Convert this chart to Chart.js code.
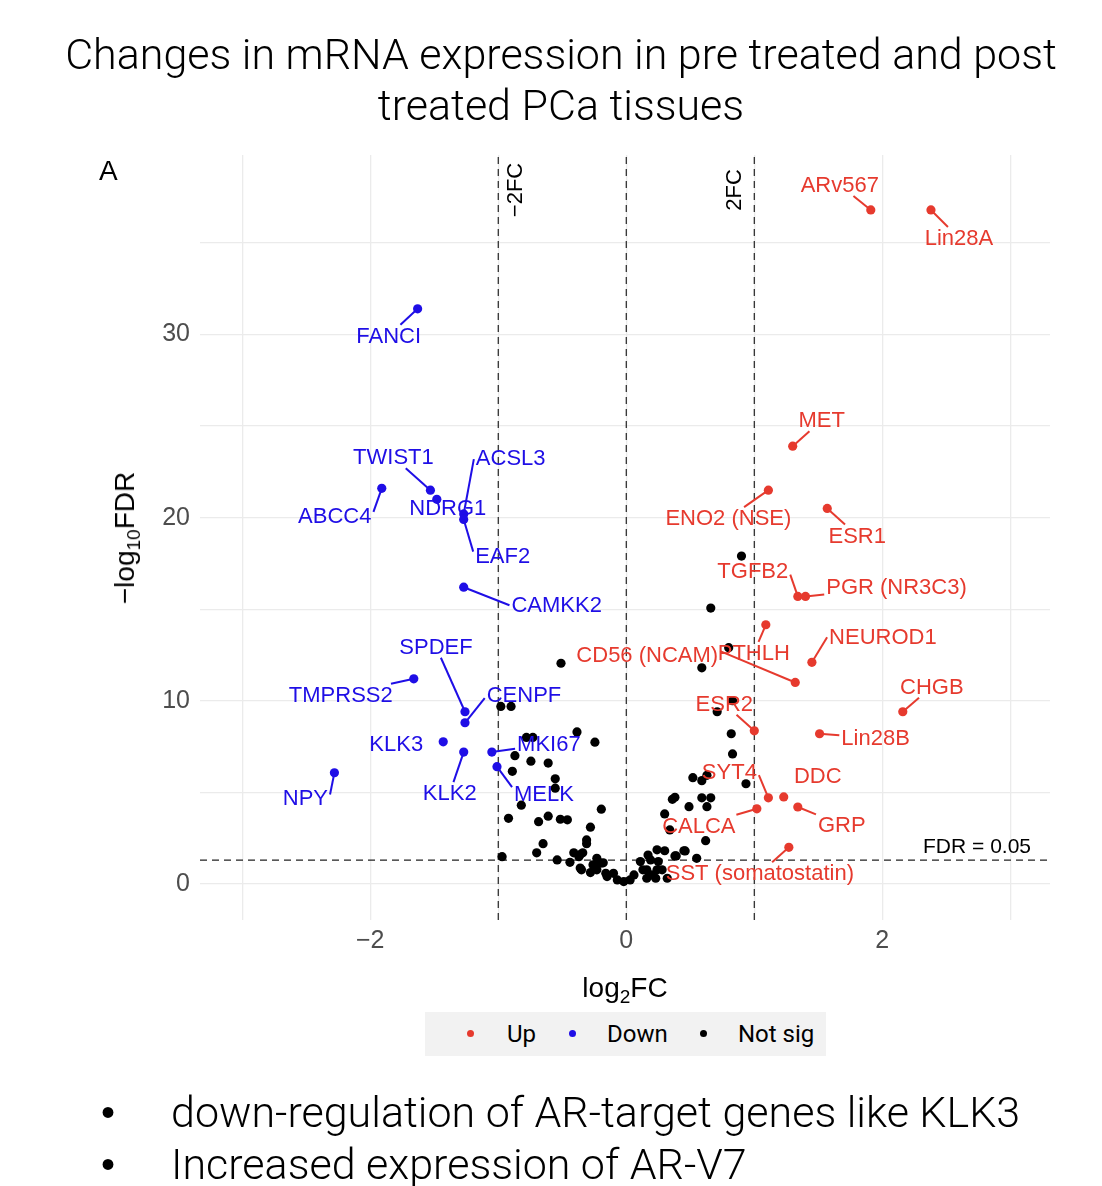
<!DOCTYPE html>
<html>
<head>
<meta charset="utf-8">
<script src="https://cdn.jsdelivr.net/npm/chart.js@4.4.1/dist/chart.umd.min.js"></script>
<style>
  html, body { margin: 0; padding: 0; background: #fff; }
  body { width: 1102px; height: 1186px; position: relative; overflow: hidden; font-family: Roboto, "Noto Sans", sans-serif; }
  #wrap { position: absolute; left: 0; top: 0; width: 1102px; height: 1186px; }
  .title { position: absolute; left: 10px; top: 29px; width: 1102px; text-align: center; font-size: 43px; font-weight: 300; line-height: 51px; color: #000; }
  .panel { position: absolute; left: 99px; top: 155px; font: 28px "Liberation Sans", Arial, sans-serif; color: #000; }
  .ytitle, .xtitle { position: absolute; font: 28px "Liberation Sans", Arial, sans-serif; white-space: nowrap; color: #000; }
  .ytitle { left: 125px; top: 538px; transform: translate(-50%, -50%) rotate(-90deg); }
  .xtitle { left: 625px; top: 988px; transform: translate(-50%, -50%); }
  sub { font-size: 68%; vertical-align: -0.3em; line-height: 0; }
  .legend { position: absolute; left: 425px; top: 1012px; width: 401px; height: 44px; background: #f2f2f2; }
  .legend span { position: absolute; top: 0; line-height: 44px; font-size: 24px; color: #000; }
  .legend i { position: absolute; top: 18px; width: 7px; height: 7px; border-radius: 50%; }
  .bullets { position: absolute; left: 0; top: 1086px; font-size: 43px; font-weight: 300; line-height: 52px; color: #000; }
  .bullets div { position: relative; padding-left: 171px; white-space: nowrap; }
  .bullets div::before { content: "\2022"; position: absolute; left: 101px; top: 0; font: 40px "Liberation Sans", Arial, sans-serif; line-height: 52px; }
</style>
</head>
<body>
<div id="wrap"><canvas id="volcano" width="1102" height="1186"></canvas></div>
<div class="title">Changes in mRNA expression in pre treated and post<br>treated PCa tissues</div>
<div class="panel">A</div>
<div class="ytitle">&minus;log<sub>10</sub>FDR</div>
<div class="xtitle">log<sub>2</sub>FC</div>
<div class="legend">
  <i style="left:42px;background:#e63a2e"></i><span style="left:82px">Up</span>
  <i style="left:144px;background:#1f0ee6"></i><span style="left:182px">Down</span>
  <i style="left:275px;background:#000"></i><span style="left:313px">Not sig</span>
</div>
<div class="bullets">
  <div>down-regulation of AR-target genes like KLK3</div>
  <div>Increased expression of AR-V7</div>
</div>
<script>
// significant up genes
const upGenes = ['ARv567', 'Lin28A', 'MET', 'ENO2 (NSE)', 'ESR1', 'TGFB2', 'PGR (NR3C3)', 'PTHLH',
  'NEUROD1', 'CD56 (NCAM)', 'CHGB', 'ESR2', 'Lin28B', 'SYT4', 'DDC', 'GRP', 'CALCA', 'SST (somatostatin)'];
const upLogFC = [1.91, 2.38, 1.30, 1.11, 1.57, 1.34, 1.40, 1.09,
  1.45, 1.32, 2.16, 1.00, 1.51, 1.11, 1.23, 1.34, 1.02, 1.27];
const upFDR = [36.8, 36.8, 23.9, 21.5, 20.5, 15.7, 15.7, 14.15,
  12.1, 11.0, 9.4, 8.36, 8.2, 4.7, 4.75, 4.2, 4.1, 2.0];

// significant down genes
const downGenes = ['FANCI', 'TWIST1', 'NDRG1', 'ABCC4', 'ACSL3', 'EAF2', 'CAMKK2', 'SPDEF',
  'TMPRSS2', 'CENPF', 'KLK3', 'KLK2', 'MKI67', 'MELK', 'NPY'];
const downLogFC = [-1.63, -1.53, -1.48, -1.91, -1.27, -1.27, -1.27, -1.26,
  -1.66, -1.26, -1.43, -1.27, -1.05, -1.01, -2.28];
const downFDR = [31.4, 21.5, 21.0, 21.6, 20.2, 19.9, 16.2, 9.4,
  11.2, 8.8, 7.76, 7.2, 7.2, 6.4, 6.07];

// not significant
const nsLogFC = [-0.51, -0.98, -0.90, -0.385, -0.245, -0.78, -0.73, -0.87, -0.745, -0.61, -0.89, -0.555, -0.555,
  -0.82, -0.195, -0.92, -0.685, -0.61, -0.515, -0.46, -0.28, -0.31, -0.31, -0.65, -0.70, -0.97, -0.54, -0.44,
  -0.36, -0.37, -0.35, -0.28, -0.23, -0.20, -0.23, -0.15, -0.10, -0.07, -0.02, 0.03, 0.06, -0.16,
  -0.41, -0.34, -0.18, -0.26, -0.36,
  0.90, 0.66, 0.80, 0.59, 0.83, 0.71, 0.82, 0.83, 0.52, 0.59, 0.63, 0.935, 0.36, 0.38, 0.59, 0.66, 0.49, 0.63,
  0.30, 0.34, 0.62, 0.45, 0.39, 0.55, 0.24, 0.30, 0.17, 0.11, 0.19, 0.25, 0.16, 0.24, 0.28, 0.16, 0.23, 0.32,
  0.38, 0.46, 0.13, 0.20];
const nsFDR = [12.05, 9.69, 9.69, 8.3, 7.74, 8.0, 8.0, 7.0, 6.7, 6.6, 6.15, 5.74, 5.23,
  4.3, 4.08, 3.58, 3.4, 3.7, 3.53, 3.5, 3.1, 2.4, 2.2, 2.2, 1.7, 1.49, 1.31, 1.18,
  1.6, 1.49, 0.77, 0.62, 0.77, 1.13, 1.4, 0.4, 0.58, 0.22, 0.13, 0.22, 0.49, 0.58,
  1.7, 1.7, 1.15, 1.04, 0.87,
  17.9, 15.06, 12.9, 11.8, 10.0, 9.4, 8.2, 7.1, 5.8, 5.64, 5.93, 5.47, 4.62, 4.73, 4.7, 4.7, 4.22, 4.22,
  3.82, 2.95, 2.36, 1.81, 1.53, 1.4, 1.86, 1.81, 1.58, 1.22, 1.31, 1.22, 0.77, 0.77, 0.77, 0.31, 0.31, 0.31,
  1.53, 1.8, 0.77, 0.49];

const xTicks = [-3, -2, -1, 0, 1, 2, 3];
const xTickLabels = ['', '\u22122', '', '0', '', '2', ''];
const yTicks = [0, 5, 10, 15, 20, 25, 30, 35];
const yTickLabels = ['0', '', '10', '', '20', '', '30', ''];
const fcCutoffs = [-1, 0, 1];
const fdrCutoff = 1.301;

// label placement (pixel offset from the point, like ggrepel)
const labelOffsets = {
  'ARv567': [-31, -25], 'Lin28A': [28, 28], 'MET': [29, -26], 'ENO2 (NSE)': [-40, 28], 'ESR1': [30, 27],
  'TGFB2': [-45, -25], 'PGR (NR3C3)': [91, -9], 'PTHLH': [-12, 28], 'NEUROD1': [71, -25],
  'CD56 (NCAM)': [-148, -28], 'CHGB': [29, -25], 'ESR2': [-30, -27], 'Lin28B': [56, 4], 'SYT4': [-39, -26],
  'DDC': [34, -21], 'GRP': [44, 18], 'CALCA': [-58, 17], 'SST (somatostatin)': [-29, 26],
  'FANCI': [-29, 27], 'TWIST1': [-37, -33], 'NDRG1': [11, 9], 'ABCC4': [-47, 28], 'ACSL3': [47, -56],
  'EAF2': [39, 36], 'CAMKK2': [93, 18], 'SPDEF': [-29, -65], 'TMPRSS2': [-73, 16], 'CENPF': [59, -28],
  'KLK3': [-47, 2], 'KLK2': [-14, 41], 'MKI67': [57, -8], 'MELK': [47, 27], 'NPY': [-29, 25]
};
// where the segment meets the label box (fraction of half width / half height), when not aimed at the centre
const segmentAnchors = {
  'ACSL3': [-1, 0.1], 'ABCC4': [1, -0.4], 'EAF2': [-1, -0.35], 'CAMKK2': [-1, 0], 'CENPF': [-1, 0.3],
  'MELK': [-1, -0.6], 'NPY': [1, -0.3], 'TGFB2': [1, 0.3], 'NEUROD1': [-1, 0], 'CD56 (NCAM)': [1, -0.3],
  'SYT4': [1, 0.3]
};
const noSegment = ['KLK3', 'DDC', 'NDRG1'];

const RED = '#e63a2e';
const BLUE = '#1f0ee6';
const LABEL_FONT = '22px "Liberation Sans", Arial, sans-serif';

const toPts = (xs, ys) => xs.map((v, i) => ({ x: v, y: ys[i] }));

const X_MIN = -3.33, X_MAX = 3.31, Y_MIN = -1.97, Y_MAX = 39.8;

const refLines = [
  ...fcCutoffs.map(v => [{ x: v, y: Y_MIN }, { x: v, y: Y_MAX }]),
  [{ x: X_MIN, y: fdrCutoff }, { x: X_MAX, y: fdrCutoff }]
].map(d => ({
  type: 'line', data: d, borderColor: '#222', borderWidth: 1.2, borderDash: [7, 5],
  pointRadius: 0, fill: false, order: 5
}));

const geneLabels = {
  id: 'geneLabels',
  afterDatasetsDraw(chart) {
    const { ctx, scales: { x, y }, chartArea } = chart;
    ctx.save();
    ctx.font = LABEL_FONT;
    ctx.textAlign = 'center';
    ctx.textBaseline = 'middle';
    [[upGenes, upLogFC, upFDR, RED], [downGenes, downLogFC, downFDR, BLUE]].forEach(([names, xs, ys, col]) => {
      names.forEach((n, i) => {
        const px = x.getPixelForValue(xs[i]);
        const py = y.getPixelForValue(ys[i]);
        const [dx, dy] = labelOffsets[n];
        const lx = px + dx, ly = py + dy;
        const hw = ctx.measureText(n).width / 2 + 2, hh = 11;
        let ex, ey;
        if (segmentAnchors[n]) {
          ex = lx + segmentAnchors[n][0] * hw;
          ey = ly + segmentAnchors[n][1] * hh;
        } else {
          const s = Math.min(dx ? hw / Math.abs(dx) : Infinity, dy ? hh / Math.abs(dy) : Infinity);
          ex = lx - s * dx;
          ey = ly - s * dy;
        }
        if (!noSegment.includes(n)) {
          ctx.strokeStyle = col;
          ctx.lineWidth = 2;
          ctx.beginPath();
          ctx.moveTo(px, py);
          ctx.lineTo(ex, ey);
          ctx.stroke();
        }
        ctx.fillStyle = col;
        ctx.fillText(n, lx, ly + 1);
      });
    });

    // cutoff annotations
    ctx.fillStyle = '#000';
    ctx.font = '22px "Liberation Sans", Arial, sans-serif';
    const yc = chartArea.top + 35;
    [[-1, 18, '\u22122FC'], [1, -19, '2FC']].forEach(([v, off, t]) => {
      ctx.save();
      ctx.translate(x.getPixelForValue(v) + off, yc);
      ctx.rotate(-Math.PI / 2);
      ctx.fillText(t, 0, 0);
      ctx.restore();
    });
    ctx.textAlign = 'right';
    ctx.font = '21px "Liberation Sans", Arial, sans-serif';
    ctx.fillText('FDR = 0.05', chartArea.right - 19, y.getPixelForValue(fdrCutoff) - 13);
    ctx.restore();
  }
};

new Chart(document.getElementById('volcano'), {
  type: 'scatter',
  data: {
    datasets: [
      ...refLines,
      { label: 'Not sig', data: toPts(nsLogFC, nsFDR), backgroundColor: '#000', borderWidth: 0, pointRadius: 4.6, order: 3 },
      { label: 'Up', data: toPts(upLogFC, upFDR), backgroundColor: RED, borderWidth: 0, pointRadius: 4.6, order: 2 },
      { label: 'Down', data: toPts(downLogFC, downFDR), backgroundColor: BLUE, borderWidth: 0, pointRadius: 4.6, order: 1 }
    ]
  },
  options: {
    responsive: false,
    animation: false,
    layout: { padding: { top: 155, right: 52, left: 0, bottom: 0 } },
    plugins: { legend: { display: false }, tooltip: { enabled: false } },
    scales: {
      x: {
        type: 'linear', min: X_MIN, max: X_MAX,
        afterBuildTicks: s => { s.ticks = xTicks.map(v => ({ value: v })); },
        afterFit: s => { s.height = 266; },
        border: { display: false },
        grid: { color: '#ebebeb', lineWidth: 1.3, drawTicks: false },
        ticks: {
          autoSkip: false, maxRotation: 0, padding: 6, color: '#4d4d4d',
          font: { family: '"Liberation Sans", Arial, sans-serif', size: 25 },
          callback: (v) => xTickLabels[xTicks.indexOf(v)]
        }
      },
      y: {
        type: 'linear', min: Y_MIN, max: Y_MAX,
        afterBuildTicks: s => { s.ticks = yTicks.map(v => ({ value: v })); },
        afterFit: s => { s.width = 200; },
        border: { display: false },
        grid: { color: '#ebebeb', lineWidth: 1.3, drawTicks: false },
        ticks: {
          autoSkip: false, padding: 10, color: '#4d4d4d',
          font: { family: '"Liberation Sans", Arial, sans-serif', size: 25 },
          callback: (v) => yTickLabels[yTicks.indexOf(v)]
        }
      }
    }
  },
  plugins: [geneLabels]
});
</script>
</body>
</html>
